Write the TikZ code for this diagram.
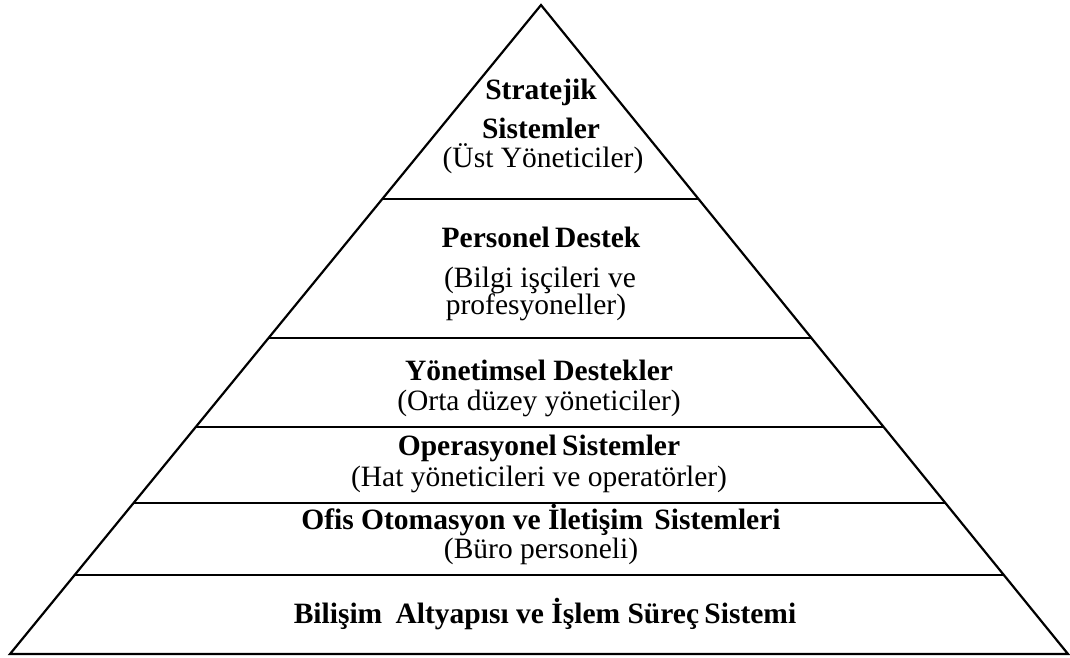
\documentclass[tikz,border=0pt]{standalone}
\usepackage{fontspec}
\setmainfont{Liberation Serif}
\usetikzlibrary{calc}

\tikzset{
  edge/.style={line width=2.2pt, line join=miter},
  title/.style={font=\fontsize{29.5}{33}\selectfont\bfseries, anchor=base, inner sep=0pt},
  sub/.style={font=\fontsize{29.5}{33}\selectfont, anchor=base, inner sep=0pt},
}

\begin{document}
\begin{tikzpicture}[x=1pt, y=-1pt]
  \useasboundingbox (0,0) rectangle (1070,657);

  % outline of the pyramid
  \coordinate (apex) at (541,5);
  \coordinate (bl) at (10,654);
  \coordinate (br) at (1068,654);
  \draw[edge] (apex) -- (bl) -- (br) -- cycle;

  % level dividers (fractions of the height measured from the apex)
  \foreach \y [count=\i] in {199,338,427,503,575} {
    \pgfmathsetmacro{\t}{(\y-5)/649}
    \coordinate (l\i) at ($(apex)!\t!(bl)$);
    \coordinate (r\i) at ($(apex)!\t!(br)$);
    \draw[edge] (l\i) -- (r\i);
  }

  % level texts
  \node[title] (s1) at (541,99) {Stratejik};
  \node[title] (s2) at (541,138) {Sistemler};
  \node[sub]   (s3) at (543,167) {(Üst Yöneticiler)};

  \node[title] (p1) at (541,247) {Personel\hspace{-2pt} Destek};
  \node[sub]   (p2) at (540,287) {(Bilgi işçileri ve};
  \node[sub]   (p3) at (536,314) {profesyoneller)};

  \node[title] (y1) at (539,380) {Yönetimsel Destekler};
  \node[sub]   (y2) at (539,410) {(Orta düzey yöneticiler)};

  \node[title] (o1) at (539,455) {Operasyonel\hspace{-2pt} Sistemler};
  \node[sub]   (o2) at (539,486) {(Hat yöneticileri ve operatörler)};

  \node[title] (f1) at (541,529) {Ofis Otomasyon ve İletişim\hspace{4pt} Sistemleri};
  \node[sub]   (f2) at (541,558) {(Büro personeli)};

  \node[title] (b1) at (545,623) {Bilişim\hspace{6pt} Altyapısı ve İşlem Süreç\hspace{-2pt} Sistemi};
\end{tikzpicture}
\end{document}
